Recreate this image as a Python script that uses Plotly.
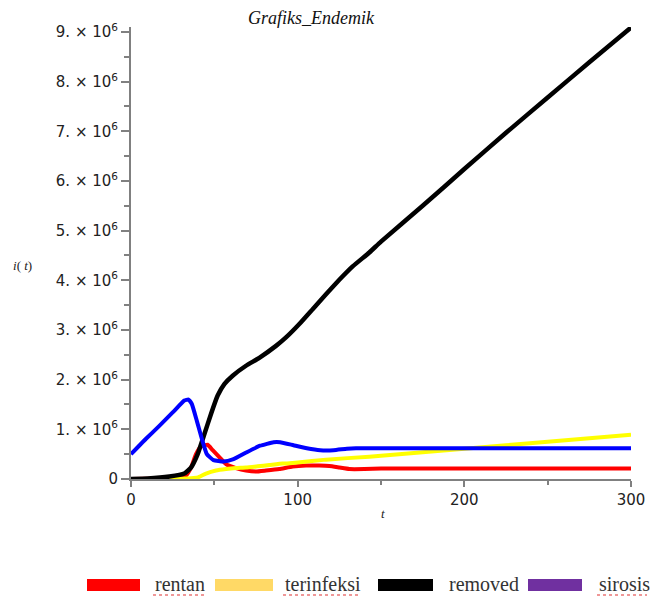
import plotly.graph_objects as go

# ---- data (values in units of 1e6 people) ----
t_rentan = [0, 10, 20, 28, 33, 36, 39, 42, 46, 49, 53, 57, 63, 69, 75, 81, 89, 97, 105, 113, 119, 125, 131, 140, 150, 200, 250, 300]
rentan = [0, 0.005, 0.015, 0.03, 0.07, 0.23, 0.50, 0.65, 0.69, 0.58, 0.44, 0.30, 0.22, 0.17, 0.15, 0.17, 0.20, 0.25, 0.27, 0.27, 0.26, 0.23, 0.20, 0.20, 0.21, 0.21, 0.21, 0.21]

t_terinfeksi = [0, 20, 30, 36, 40, 45, 51, 57, 63, 69, 76, 83, 91, 100, 117, 143, 150, 175, 200, 225, 250, 275, 300]
terinfeksi = [0, 0, 0.005, 0.015, 0.03, 0.11, 0.17, 0.20, 0.22, 0.23, 0.255, 0.28, 0.31, 0.33, 0.39, 0.45, 0.47, 0.54, 0.61, 0.68, 0.75, 0.82, 0.89]

t_removed = [0, 10, 23, 32, 36, 40, 44, 48, 52, 56, 61, 69, 77, 87, 93, 101, 109, 117, 125, 133, 143, 150, 175, 200, 225, 250, 275, 300]
removed = [0, 0.01, 0.05, 0.11, 0.23, 0.5, 0.9, 1.31, 1.68, 1.91, 2.08, 2.28, 2.44, 2.68, 2.85, 3.12, 3.42, 3.72, 4.01, 4.28, 4.56, 4.78, 5.5, 6.24, 6.97, 7.68, 8.39, 9.09]

t_sirosis = [0, 9, 17, 25, 32, 34.5, 36.5, 39.5, 42.5, 45.5, 49.5, 55.5, 61.5, 69.5, 77.5, 85.5, 89.5, 97.5, 105.5, 113.5, 121.5, 129.5, 135, 143, 150, 200, 250, 300]
sirosis = [0.50, 0.81, 1.07, 1.34, 1.58, 1.60, 1.51, 1.17, 0.81, 0.50, 0.38, 0.35, 0.40, 0.54, 0.67, 0.74, 0.74, 0.68, 0.62, 0.58, 0.58, 0.61, 0.62, 0.62, 0.62, 0.62, 0.62, 0.62]

y_ticks = [0, 1, 2, 3, 4, 5, 6, 7, 8, 9]
x_ticks = [0, 100, 200, 300]
legend_labels = ["rentan", "terinfeksi", "removed", "sirosis"]
legend_colors = ["#FF0000", "#FFD966", "#000000", "#7030A0"]
legend_squiggle = [True, True, False, True]

SCALE = 1e6

series = [
    ("rentan", t_rentan, rentan, "#FF0000", 4),
    ("terinfeksi", t_terinfeksi, terinfeksi, "#FFFF00", 4),
    ("removed", t_removed, removed, "#000000", 4.5),
    ("sirosis", t_sirosis, sirosis, "#0000FF", 4),
]

fig = go.Figure()
for name, tt, vv, col, lw in series:
    fig.add_trace(go.Scatter(
        x=tt, y=[v * SCALE for v in vv], mode="lines", name=name,
        line=dict(color=col, width=lw, shape="spline", smoothing=0.4),
        showlegend=False,
    ))

# layout geometry (pixels)
L, R, T, B = 131, 19, 27, 118
W, H = 650, 597
PW, PH = W - L - R, H - T - B

def px(x):
    return (x - L) / PW

def py(y):
    return (H - B - y) / PH

ytext = ["0"] + [f"{v}. × 10<sup>6</sup>" for v in y_ticks[1:]]

fig.update_layout(
    width=W, height=H, autosize=False,
    margin=dict(l=L, r=R, t=T, b=B, autoexpand=False),
    paper_bgcolor="white", plot_bgcolor="white",
    showlegend=False,
    title=dict(text="<i>Grafiks_Endemik</i>", x=311 / W, xref="container", xanchor="center",
               y=1 - 18 / H, yref="container", yanchor="middle",
               font=dict(family="Liberation Serif", size=18, color="#111")),
    xaxis=dict(range=[0, 300], tickvals=x_ticks, ticktext=[str(v) for v in x_ticks], automargin=False,
               showgrid=False, zeroline=False, showline=True, linecolor="#808080", linewidth=2,
               ticks="outside", ticklen=6, tickwidth=1.5, tickcolor="#808080",
               minor=dict(ticks="outside", ticklen=4, tickwidth=1.5, tickcolor="#808080", dtick=50),
               tickfont=dict(family="DejaVu Sans", size=15, color="#222"), fixedrange=True),
    yaxis=dict(range=[0, 9.1 * SCALE], tickvals=[v * SCALE for v in y_ticks], ticktext=ytext, automargin=False,
               showgrid=False, zeroline=False, showline=True, linecolor="#808080", linewidth=2,
               ticks="outside", ticklen=8, tickwidth=1.5, tickcolor="#808080",
               minor=dict(ticks="outside", ticklen=5, tickwidth=1.5, tickcolor="#808080", dtick=0.5 * SCALE),
               tickfont=dict(family="DejaVu Sans", size=15, color="#222"), fixedrange=True),
)

annotations = [
    dict(text="<i>i</i>( <i>t</i>)", x=px(22), y=py(265), xref="paper", yref="paper",
         showarrow=False, xanchor="center", yanchor="middle",
         font=dict(family="Liberation Serif", size=13, color="#222")),
    dict(text="<i>t</i>", x=px(383), y=py(513), xref="paper", yref="paper",
         showarrow=False, xanchor="center", yanchor="middle",
         font=dict(family="Liberation Serif", size=13, color="#222")),
]

# custom legend at the bottom
rects = [(87, 140), (215, 273), (378, 433), (528, 582)]
text_x = [(153, 204), (283, 360), (447, 518), (597, 647)]
shapes = []
for (x0, x1), (tx0, tx1), lab, col, sq in zip(rects, text_x, legend_labels, legend_colors, legend_squiggle):
    shapes.append(dict(type="rect", xref="paper", yref="paper",
                       x0=px(x0), x1=px(x1), y0=py(591), y1=py(579),
                       fillcolor=col, line=dict(width=0)))
    annotations.append(dict(text=lab, x=px(tx0), y=py(584), xref="paper", yref="paper",
                            showarrow=False, xanchor="left", yanchor="middle",
                            font=dict(family="Liberation Serif", size=20, color="#333")))
    if sq:
        shapes.append(dict(type="line", xref="paper", yref="paper",
                           x0=px(tx0), x1=px(tx1), y0=py(595), y1=py(595),
                           line=dict(color="#E03030", width=1.2, dash="dot")))

fig.update_layout(annotations=annotations, shapes=shapes)

fig.write_html("out.html", config={"displayModeBar": False, "responsive": False},
               post_script="document.body.style.margin='0';")
